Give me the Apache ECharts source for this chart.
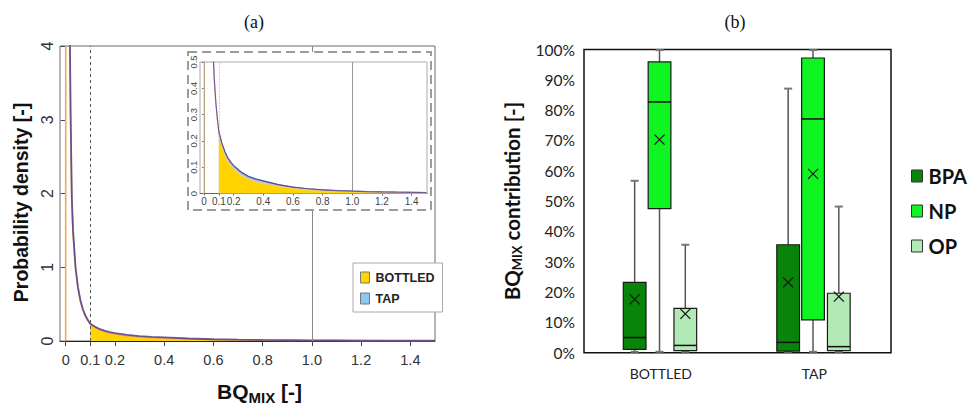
<!DOCTYPE html>
<html><head><meta charset="utf-8">
<script src="https://cdn.jsdelivr.net/npm/echarts@6/dist/echarts.min.js"></script>
<style>html,body{margin:0;padding:0;background:#fff}#c{width:971px;height:410px}</style>
</head><body><div id="c"></div>
<script>
// ---------- Panel (a) data ----------
const densityX = [0, 0.002, 0.005, 0.008, 0.01, 0.012, 0.015, 0.02, 0.025, 0.03, 0.04, 0.05, 0.06, 0.07, 0.08, 0.09, 0.1, 0.12, 0.14, 0.16, 0.18, 0.2, 0.25, 0.3, 0.35, 0.4, 0.5, 0.6, 0.7, 0.8, 0.9, 1.0, 1.1, 1.2, 1.3, 1.4, 1.5];
const bottledDensity = [0, 30, 14, 8.5, 6.5, 5.2, 4.8, 3.0, 1.9, 1.45, 0.98, 0.71, 0.54, 0.42, 0.34, 0.28, 0.23, 0.182, 0.148, 0.124, 0.107, 0.094, 0.07, 0.055, 0.045, 0.039, 0.028, 0.02, 0.015, 0.011, 0.009, 0.007, 0.006, 0.005, 0.0042, 0.0035, 0.003];
const tapDensity = [null, null, 13, 8.8, 6.8, 5.5, 4.9, 3.1, 1.95, 1.5, 1.0, 0.73, 0.55, 0.43, 0.345, 0.285, 0.235, 0.192, 0.16, 0.136, 0.119, 0.106, 0.082, 0.065, 0.055, 0.048, 0.034, 0.024, 0.018, 0.014, 0.011, 0.009, 0.0075, 0.0062, 0.0052, 0.0045, 0.0038];
const fillFrom = 0.1;
const refLines = [0.1, 1.0];
const xTickValues = [0, 0.1, 0.2, 0.4, 0.6, 0.8, 1.0, 1.2, 1.4];
const densityLegend = ['BOTTLED', 'TAP'];

// ---------- Panel (b) data ----------
const categories = ['BOTTLED', 'TAP'];
const compounds = ['BPA', 'NP', 'OP'];
// [min, Q1, median, Q3, max, mean] in %
const bpaStats = [[0.3, 1.1, 5.0, 23.2, 56.7, 17.6], [0.3, 0.55, 3.4, 35.6, 87.1, 23.2]];
const npStats  = [[0.3, 47.5, 82.7, 95.9, 99.8, 70.3], [0.3, 10.8, 77.1, 97.2, 99.8, 59.0]];
const opStats  = [[0.3, 0.7, 2.4, 14.6, 35.6, 12.8], [0.3, 0.7, 2.0, 19.6, 48.2, 18.5]];

// ---------- build ----------
const pairs = a => densityX.map((x, i) => [x, a[i]]);
const fromFill = a => densityX.map((x, i) => [x, a[i]]).filter(p => p[0] >= fillFrom);
const fmtX = v => v === 0 ? '0' : (Math.abs(v - 0.1) < 1e-9 ? '0.1' : v.toFixed(1));

const C_YEL = '#ffd400', C_BLU = '#8cc8ef', C_ORA = '#f2a84e', C_PUR = '#56408e';
const boxColors = { BPA: '#08840a', NP: '#0ff522', OP: '#b3e9b5' };
const boxOffset = { BPA: -0.17, NP: -0.008, OP: 0.16 };
const boxW = 0.148;

function boxRender(name) {
  return function (params, api) {
    const cat = api.value(0);
    const band = api.size([1, 0])[0];
    const cx = api.coord([cat, 0])[0] + boxOffset[name] * band;
    const hw = boxW * band / 2;
    const y = k => api.coord([cat, api.value(k)])[1];
    const yMin = y(1), yQ1 = y(2), yMed = y(3), yQ3 = y(4), yMax = y(5), yMean = y(6);
    const wl = { stroke: '#555', lineWidth: 1.5 };
    const cap = { stroke: '#777', lineWidth: 2 };
    const m = 5;
    return {
      type: 'group',
      children: [
        { type: 'line', shape: { x1: cx, y1: yQ3, x2: cx, y2: yMax }, style: wl },
        { type: 'line', shape: { x1: cx, y1: yQ1, x2: cx, y2: yMin }, style: wl },
        { type: 'line', shape: { x1: cx - 4, y1: yMax, x2: cx + 4, y2: yMax }, style: cap },
        { type: 'line', shape: { x1: cx - 4, y1: yMin, x2: cx + 4, y2: yMin }, style: cap },
        { type: 'rect', shape: { x: cx - hw, y: yQ3, width: 2 * hw, height: yQ1 - yQ3 }, style: { fill: api.visual('color'), stroke: '#1a1a1a', lineWidth: 1.2 } },
        { type: 'line', shape: { x1: cx - hw, y1: yMed, x2: cx + hw, y2: yMed }, style: { stroke: '#111', lineWidth: 1.5 } },
        { type: 'line', shape: { x1: cx - m, y1: yMean - m, x2: cx + m, y2: yMean + m }, style: { stroke: '#111', lineWidth: 1.2 } },
        { type: 'line', shape: { x1: cx - m, y1: yMean + m, x2: cx + m, y2: yMean - m }, style: { stroke: '#111', lineWidth: 1.2 } }
      ]
    };
  };
}
const statSeries = { BPA: bpaStats, NP: npStats, OP: opStats };

const sans = '"Liberation Sans", Arial, sans-serif';
const lato = 'Lato, "Open Sans", sans-serif';

const chart = echarts.init(document.getElementById('c'), null, { renderer: 'svg', width: 971, height: 410 });

const option = {
  animation: false,
  backgroundColor: '#fff',
  graphic: { elements: [
    { type: 'rect', z: 10, shape: { x: 188, y: 52, width: 243, height: 158 },
      style: { fill: '#fff', stroke: '#9c9c9c', lineWidth: 2, lineDash: [9, 5] } },
    { type: 'text', z: 5, x: 254, y: 22, style: { text: '(a)', font: '18px "Liberation Serif", serif', fill: '#111', align: 'center', verticalAlign: 'middle', textAlign: 'center', textVerticalAlign: 'middle' } },
    { type: 'text', z: 5, x: 735, y: 22, style: { text: '(b)', font: '18px "Liberation Serif", serif', fill: '#111', align: 'center', verticalAlign: 'middle', textAlign: 'center', textVerticalAlign: 'middle' } }
  ] },
  legend: [
    { data: densityLegend, orient: 'vertical', left: 353, top: 263, width: 77, z: 20,
      backgroundColor: '#fff', borderColor: '#aaa', borderWidth: 1, padding: [8, 8, 7, 7],
      icon: 'rect', itemWidth: 9, itemHeight: 11, itemGap: 8,
      itemStyle: { borderColor: '#777', borderWidth: 1 },
      textStyle: { fontFamily: sans, fontWeight: 'bold', fontSize: 12.5, color: '#222', padding: [0, 0, 0, 1] } },
    { data: compounds, orient: 'vertical', left: 911, top: 164, padding: 0,
      icon: 'rect', itemWidth: 11, itemHeight: 12, itemGap: 11,
      itemStyle: { borderColor: '#333', borderWidth: 1 },
      textStyle: { fontFamily: lato, fontWeight: 'bold', fontSize: 20, color: '#111', lineHeight: 24, padding: [0, 0, 0, 1] } }
  ],
  grid: [
    { left: 60, top: 46, width: 375, height: 304, show: true, borderColor: '#6a6a6a', borderWidth: 1, containLabel: false },
    { left: 200, top: 62, width: 227, height: 131.5, show: true, borderColor: '#aaa', borderWidth: 1, backgroundColor: 'transparent', z: 11, containLabel: false },
    { left: 584, top: 49.5, width: 307, height: 303.2, show: true, borderColor: '#111', borderWidth: 1.5, containLabel: false }
  ],
  xAxis: [
    { gridIndex: 0, type: 'value', min: -0.023, max: 1.5, splitLine: { show: false },
      axisLine: { show: true, onZero: false, lineStyle: { color: '#222', width: 1 } },
      axisTick: { show: true, customValues: xTickValues, length: 5, lineStyle: { color: '#444' } },
      axisLabel: { customValues: xTickValues, formatter: fmtX, margin: 11, fontFamily: sans, fontSize: 14.5, color: '#333' },
      name: '{a|BQ}{s|MIX}{a| [-]}', nameLocation: 'middle', nameGap: 37,
      nameTextStyle: { padding: [0, 0, 0, 24], rich: {
        a: { fontFamily: sans, fontWeight: 'bold', fontSize: 21, color: '#111' },
        s: { fontFamily: sans, fontWeight: 'bold', fontSize: 15, color: '#111', padding: [12, 0, 0, 0] } } } },
    { gridIndex: 1, type: 'value', min: -0.027, max: 1.504, splitLine: { show: false }, z: 12,
      axisLine: { show: true, onZero: false, lineStyle: { color: '#666', width: 1 } },
      axisTick: { show: true, customValues: xTickValues, length: 2, lineStyle: { color: '#666' } },
      axisLabel: { customValues: xTickValues, formatter: fmtX, margin: 3, fontFamily: sans, fontSize: 10, color: '#444' } },
    { gridIndex: 2, type: 'category', data: categories,
      axisLine: { show: false }, axisTick: { show: false },
      axisLabel: { margin: 14, fontFamily: lato, fontSize: 14, color: '#222' } }
  ],
  yAxis: [
    { gridIndex: 0, type: 'value', min: 0, max: 4, interval: 1, splitLine: { show: false },
      axisLine: { show: false }, axisTick: { show: true, length: 5, lineStyle: { color: '#444' } },
      axisLabel: { rotate: 90, margin: 5, fontFamily: sans, fontSize: 16, color: '#333' },
      name: 'Probability density [-]', nameLocation: 'middle', nameRotate: 90, nameGap: 29,
      nameTextStyle: { fontFamily: sans, fontWeight: 'bold', fontSize: 19.5, color: '#111', padding: [0, 18, 0, 0] } },
    { gridIndex: 1, type: 'value', min: 0, max: 0.5, interval: 0.1, splitLine: { show: false }, z: 12,
      axisLine: { show: true, lineStyle: { color: '#666', width: 1 } }, axisTick: { show: true, length: 2, lineStyle: { color: '#666' } },
      axisLabel: { rotate: 90, margin: 2, fontFamily: sans, fontSize: 9.5, color: '#444', formatter: v => v === 0 ? '0' : v.toFixed(1) } },
    { gridIndex: 2, type: 'value', min: 0, max: 100, interval: 10, splitLine: { show: false },
      axisLine: { show: false }, axisTick: { show: false },
      axisLabel: { margin: 9, fontFamily: lato, fontSize: 15.5, color: '#222', formatter: '{value}%' },
      name: '{a|BQ}{s|MIX}{a| contribution [-]}', nameLocation: 'middle', nameRotate: 90, nameGap: 61,
      nameTextStyle: { rich: {
        a: { fontFamily: lato, fontWeight: 'bold', fontSize: 20.5, color: '#111' },
        s: { fontFamily: lato, fontWeight: 'bold', fontSize: 13, color: '#111', padding: [10, 0, 0, 0] } } } }
  ],
  series: [
    // main panel areas
    { name: 'TAP', type: 'line', xAxisIndex: 0, yAxisIndex: 0, z: 2, data: fromFill(tapDensity), showSymbol: false,
      itemStyle: { color: C_BLU }, lineStyle: { width: 0 }, areaStyle: { color: C_BLU, opacity: 1 } },
    { name: 'BOTTLED', type: 'line', xAxisIndex: 0, yAxisIndex: 0, z: 2, data: fromFill(bottledDensity), showSymbol: false,
      itemStyle: { color: C_YEL }, lineStyle: { width: 0 }, areaStyle: { color: C_YEL, opacity: 1 } },
    { name: 'bottled curve', type: 'line', xAxisIndex: 0, yAxisIndex: 0, z: 3, data: pairs(bottledDensity), showSymbol: false,
      lineStyle: { color: C_ORA, width: 1.6 }, itemStyle: { color: C_ORA },
      markLine: { z: 4, silent: true, symbol: 'none', label: { show: false },
        data: [ { xAxis: refLines[0], lineStyle: { type: [3, 3], color: '#555', width: 1 } },
                { xAxis: refLines[1], lineStyle: { type: 'solid', color: '#8a8a8a', width: 1 } } ] } },
    { name: 'tap curve', type: 'line', xAxisIndex: 0, yAxisIndex: 0, z: 3, data: pairs(tapDensity), showSymbol: false,
      lineStyle: { color: C_PUR, width: 1.8, opacity: 0.85 }, itemStyle: { color: C_PUR } },
    // inset
    { name: 'TAP', type: 'line', xAxisIndex: 1, yAxisIndex: 1, z: 13, data: fromFill(tapDensity), showSymbol: false,
      itemStyle: { color: C_BLU }, lineStyle: { width: 1, color: '#3f6fb0' }, areaStyle: { color: C_BLU, opacity: 1 } },
    { name: 'BOTTLED', type: 'line', xAxisIndex: 1, yAxisIndex: 1, z: 13, data: fromFill(bottledDensity), showSymbol: false,
      itemStyle: { color: C_YEL }, lineStyle: { width: 0 }, areaStyle: { color: C_YEL, opacity: 1 } },
    { name: 'bottled curve inset', type: 'line', xAxisIndex: 1, yAxisIndex: 1, z: 14, data: pairs(bottledDensity), showSymbol: false,
      lineStyle: { color: '#f3c98f', width: 1.2 }, itemStyle: { color: C_ORA },
      markLine: { z: 12, silent: true, symbol: 'none', label: { show: false },
        data: [ { xAxis: refLines[0], lineStyle: { type: [1, 2], color: '#aaa', width: 1 } },
                { xAxis: refLines[1], lineStyle: { type: 'solid', color: '#999', width: 1 } } ] } },
    { name: 'tap curve inset', type: 'line', xAxisIndex: 1, yAxisIndex: 1, z: 14, data: pairs(tapDensity), showSymbol: false,
      lineStyle: { color: C_PUR, width: 1.2, opacity: 0.8 }, itemStyle: { color: C_PUR } },
    // boxplots
    ...compounds.map(name => ({
      name, type: 'custom', xAxisIndex: 2, yAxisIndex: 2, z: 3,
      itemStyle: { color: boxColors[name] },
      encode: { x: 0, y: [1, 2, 3, 4, 5, 6] },
      data: statSeries[name].map((s, i) => [i].concat(s)),
      renderItem: boxRender(name)
    }))
  ]
};
chart.setOption(option);
</script></body></html>
